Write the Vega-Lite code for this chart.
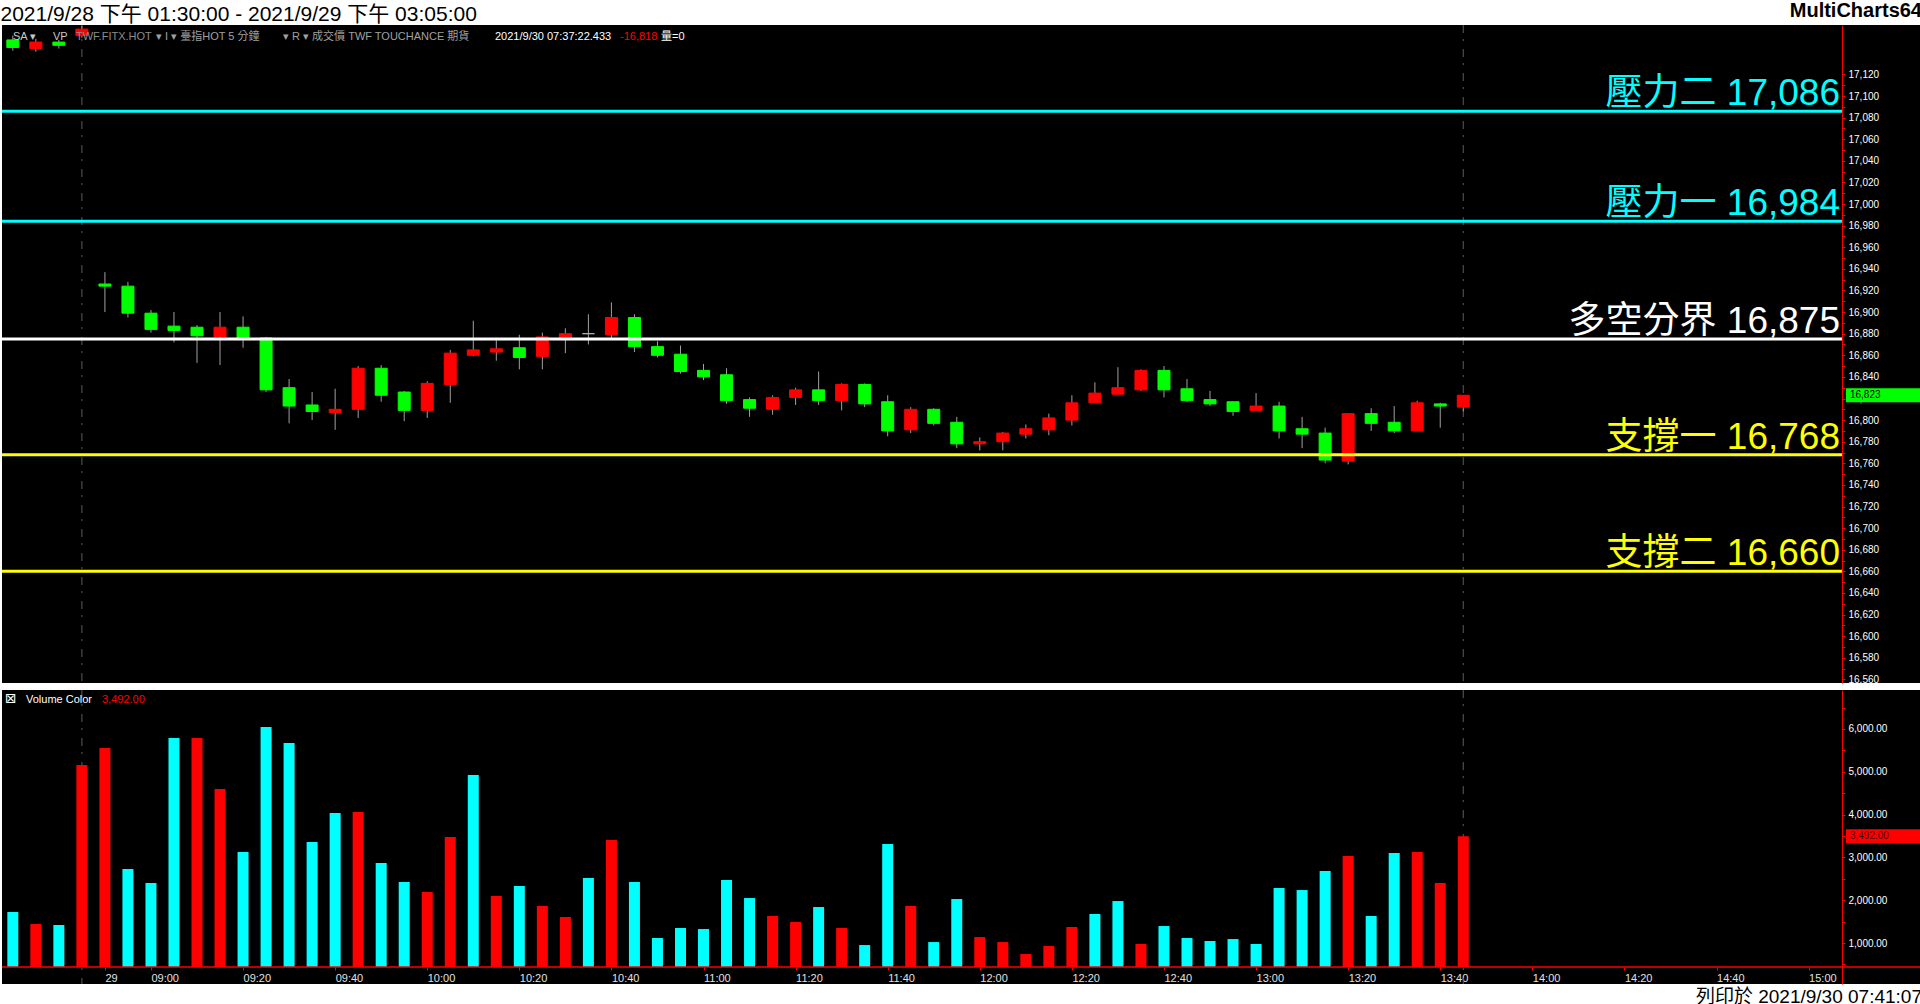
{
  "$schema": "https://vega.github.io/schema/vega-lite/v6.json",
  "background": "#FFFFFF",
  "padding": 0,
  "spacing": 4,
  "config": {
    "view": {"stroke": null, "fill": "#000000"},
    "font": "Liberation Sans, Noto Sans CJK TC",
    "concat": {"spacing": 4}
  },
  "title": {"text": "2021/9/28 下午 01:30:00 - 2021/9/29 下午 03:05:00", "anchor": "start", "fontSize": 21, "fontWeight": "normal", "color": "#000000", "offset": -24, "font": "Liberation Sans, Noto Sans CJK TC"},
  "datasets": {
    "sessions": [{"i": 3}, {"i": 63}],
    "levels": [
      {"name": "壓力二", "value": 17086, "label": "壓力二 17,086"},
      {"name": "壓力一", "value": 16984, "label": "壓力一 16,984"},
      {"name": "多空分界", "value": 16875, "label": "多空分界 16,875"},
      {"name": "支撐一", "value": 16768, "label": "支撐一 16,768"},
      {"name": "支撐二", "value": 16660, "label": "支撐二 16,660"}
    ],
    "bars": [
      {"i": 0, "o": 17152, "h": 17156, "l": 17142, "c": 17145, "d": "down", "v": 1724, "vd": "down"},
      {"i": 1, "o": 17144, "h": 17153, "l": 17141, "c": 17150, "d": "up", "v": 1444, "vd": "up"},
      {"i": 2, "o": 17150, "h": 17152, "l": 17144, "c": 17147, "d": "down", "v": 1421, "vd": "down"},
      {"i": 3, "o": 17156, "h": 17165, "l": 17154, "c": 17162, "d": "up", "v": 5159, "vd": "up"},
      {"i": 4, "o": 16926, "h": 16937, "l": 16900, "c": 16924, "d": "down", "v": 5556, "vd": "up"},
      {"i": 5, "o": 16924, "h": 16928, "l": 16895, "c": 16899, "d": "down", "v": 2729, "vd": "down"},
      {"i": 6, "o": 16899, "h": 16902, "l": 16881, "c": 16884, "d": "down", "v": 2402, "vd": "down"},
      {"i": 7, "o": 16887, "h": 16900, "l": 16872, "c": 16883, "d": "down", "v": 5790, "vd": "down"},
      {"i": 8, "o": 16886, "h": 16888, "l": 16853, "c": 16878, "d": "down", "v": 5790, "vd": "up"},
      {"i": 9, "o": 16877, "h": 16900, "l": 16851, "c": 16886, "d": "up", "v": 4598, "vd": "up"},
      {"i": 10, "o": 16886, "h": 16896, "l": 16867, "c": 16876, "d": "down", "v": 3126, "vd": "down"},
      {"i": 11, "o": 16876, "h": 16877, "l": 16826, "c": 16828, "d": "down", "v": 6047, "vd": "down"},
      {"i": 12, "o": 16830, "h": 16838, "l": 16797, "c": 16813, "d": "down", "v": 5673, "vd": "down"},
      {"i": 13, "o": 16814, "h": 16826, "l": 16800, "c": 16808, "d": "down", "v": 3360, "vd": "down"},
      {"i": 14, "o": 16807, "h": 16829, "l": 16791, "c": 16810, "d": "up", "v": 4037, "vd": "down"},
      {"i": 15, "o": 16810, "h": 16850, "l": 16802, "c": 16848, "d": "up", "v": 4061, "vd": "up"},
      {"i": 16, "o": 16848, "h": 16851, "l": 16817, "c": 16823, "d": "down", "v": 2869, "vd": "down"},
      {"i": 17, "o": 16826, "h": 16827, "l": 16799, "c": 16809, "d": "down", "v": 2425, "vd": "down"},
      {"i": 18, "o": 16809, "h": 16836, "l": 16802, "c": 16834, "d": "up", "v": 2192, "vd": "up"},
      {"i": 19, "o": 16833, "h": 16865, "l": 16816, "c": 16862, "d": "up", "v": 3477, "vd": "up"},
      {"i": 20, "o": 16860, "h": 16892, "l": 16859, "c": 16865, "d": "up", "v": 4925, "vd": "down"},
      {"i": 21, "o": 16863, "h": 16874, "l": 16855, "c": 16866, "d": "up", "v": 2098, "vd": "up"},
      {"i": 22, "o": 16867, "h": 16879, "l": 16847, "c": 16858, "d": "down", "v": 2332, "vd": "down"},
      {"i": 23, "o": 16859, "h": 16881, "l": 16847, "c": 16877, "d": "up", "v": 1865, "vd": "up"},
      {"i": 24, "o": 16876, "h": 16885, "l": 16862, "c": 16880, "d": "up", "v": 1608, "vd": "up"},
      {"i": 25, "o": 16880, "h": 16898, "l": 16870, "c": 16880, "d": "flat", "v": 2519, "vd": "down"},
      {"i": 26, "o": 16879, "h": 16909, "l": 16876, "c": 16895, "d": "up", "v": 3407, "vd": "up"},
      {"i": 27, "o": 16895, "h": 16898, "l": 16863, "c": 16868, "d": "down", "v": 2425, "vd": "down"},
      {"i": 28, "o": 16868, "h": 16873, "l": 16858, "c": 16860, "d": "down", "v": 1117, "vd": "down"},
      {"i": 29, "o": 16861, "h": 16869, "l": 16843, "c": 16845, "d": "down", "v": 1351, "vd": "down"},
      {"i": 30, "o": 16846, "h": 16852, "l": 16837, "c": 16840, "d": "down", "v": 1327, "vd": "down"},
      {"i": 31, "o": 16842, "h": 16848, "l": 16815, "c": 16818, "d": "down", "v": 2472, "vd": "down"},
      {"i": 32, "o": 16819, "h": 16821, "l": 16803, "c": 16811, "d": "down", "v": 2051, "vd": "down"},
      {"i": 33, "o": 16810, "h": 16823, "l": 16805, "c": 16821, "d": "up", "v": 1631, "vd": "up"},
      {"i": 34, "o": 16821, "h": 16830, "l": 16814, "c": 16828, "d": "up", "v": 1491, "vd": "up"},
      {"i": 35, "o": 16828, "h": 16845, "l": 16814, "c": 16818, "d": "down", "v": 1841, "vd": "down"},
      {"i": 36, "o": 16818, "h": 16834, "l": 16809, "c": 16833, "d": "up", "v": 1351, "vd": "up"},
      {"i": 37, "o": 16833, "h": 16834, "l": 16812, "c": 16815, "d": "down", "v": 953, "vd": "down"},
      {"i": 38, "o": 16817, "h": 16823, "l": 16785, "c": 16790, "d": "down", "v": 3313, "vd": "down"},
      {"i": 39, "o": 16791, "h": 16812, "l": 16788, "c": 16810, "d": "up", "v": 1865, "vd": "up"},
      {"i": 40, "o": 16810, "h": 16811, "l": 16795, "c": 16797, "d": "down", "v": 1023, "vd": "down"},
      {"i": 41, "o": 16798, "h": 16803, "l": 16774, "c": 16778, "d": "down", "v": 2028, "vd": "down"},
      {"i": 42, "o": 16778, "h": 16784, "l": 16772, "c": 16780, "d": "up", "v": 1140, "vd": "up"},
      {"i": 43, "o": 16780, "h": 16789, "l": 16772, "c": 16788, "d": "up", "v": 1023, "vd": "up"},
      {"i": 44, "o": 16787, "h": 16796, "l": 16783, "c": 16792, "d": "up", "v": 743, "vd": "up"},
      {"i": 45, "o": 16791, "h": 16806, "l": 16786, "c": 16802, "d": "up", "v": 930, "vd": "up"},
      {"i": 46, "o": 16800, "h": 16823, "l": 16795, "c": 16816, "d": "up", "v": 1374, "vd": "up"},
      {"i": 47, "o": 16816, "h": 16835, "l": 16816, "c": 16825, "d": "up", "v": 1678, "vd": "down"},
      {"i": 48, "o": 16824, "h": 16849, "l": 16824, "c": 16830, "d": "up", "v": 1981, "vd": "down"},
      {"i": 49, "o": 16828, "h": 16847, "l": 16827, "c": 16846, "d": "up", "v": 977, "vd": "up"},
      {"i": 50, "o": 16846, "h": 16850, "l": 16821, "c": 16828, "d": "down", "v": 1397, "vd": "down"},
      {"i": 51, "o": 16829, "h": 16838, "l": 16817, "c": 16818, "d": "down", "v": 1117, "vd": "down"},
      {"i": 52, "o": 16819, "h": 16827, "l": 16813, "c": 16815, "d": "down", "v": 1047, "vd": "down"},
      {"i": 53, "o": 16817, "h": 16817, "l": 16804, "c": 16808, "d": "down", "v": 1093, "vd": "down"},
      {"i": 54, "o": 16809, "h": 16825, "l": 16809, "c": 16813, "d": "up", "v": 977, "vd": "down"},
      {"i": 55, "o": 16813, "h": 16817, "l": 16783, "c": 16790, "d": "down", "v": 2285, "vd": "down"},
      {"i": 56, "o": 16792, "h": 16803, "l": 16774, "c": 16787, "d": "down", "v": 2238, "vd": "down"},
      {"i": 57, "o": 16788, "h": 16793, "l": 16760, "c": 16763, "d": "down", "v": 2682, "vd": "down"},
      {"i": 58, "o": 16762, "h": 16806, "l": 16759, "c": 16806, "d": "up", "v": 3033, "vd": "up"},
      {"i": 59, "o": 16806, "h": 16811, "l": 16790, "c": 16797, "d": "down", "v": 1631, "vd": "down"},
      {"i": 60, "o": 16798, "h": 16813, "l": 16788, "c": 16790, "d": "down", "v": 3103, "vd": "down"},
      {"i": 61, "o": 16790, "h": 16818, "l": 16790, "c": 16816, "d": "up", "v": 3126, "vd": "up"},
      {"i": 62, "o": 16815, "h": 16816, "l": 16793, "c": 16813, "d": "down", "v": 2402, "vd": "up"},
      {"i": 63, "o": 16812, "h": 16823, "l": 16808, "c": 16823, "d": "up", "v": 3492, "vd": "up"}
    ]
  },
  "vconcat": [
    {
      "width": 1920,
      "height": 658,
      "title": {"text": "MultiCharts64", "anchor": "end", "frame": "group", "fontSize": 20, "fontWeight": "bold", "color": "#000000", "offset": 4, "font": "Liberation Sans"},
      "layer": [
        {
          "data": {"name": "sessions"},
          "mark": {"type": "rule", "color": "#5A5A5A", "strokeWidth": 1, "strokeDash": [8, 6, 2, 8]},
          "encoding": {
            "x": {"field": "i", "type": "quantitative", "scale": {"domain": [-0.47, 79.45], "range": [0, 1840], "padding": 0, "nice": false, "zero": false}, "axis": null}
          }
        },
        {
          "data": {"name": "bars"},
          "mark": {"type": "rule", "color": "#A0A0A0", "strokeWidth": 1},
          "encoding": {
            "x": {"field": "i", "type": "quantitative", "scale": {"domain": [-0.47, 79.45], "range": [0, 1840], "padding": 0, "nice": false, "zero": false}, "axis": null},
            "y": {"field": "l", "type": "quantitative", "scale": {"domain": [16556.6, 17165.8], "padding": 0, "nice": false, "zero": false},
              "axis": {"orient": "right", "offset": -80, "values": [16560, 16570, 16580, 16590, 16600, 16610, 16620, 16630, 16640, 16650, 16660, 16670, 16680, 16690, 16700, 16710, 16720, 16730, 16740, 16750, 16760, 16770, 16780, 16790, 16800, 16810, 16820, 16830, 16840, 16850, 16860, 16870, 16880, 16890, 16900, 16910, 16920, 16930, 16940, 16950, 16960, 16970, 16980, 16990, 17000, 17010, 17020, 17030, 17040, 17050, 17060, 17070, 17080, 17090, 17100, 17110, 17120], "labelExpr": "datum.value % 20 == 0 ? format(datum.value, ',d') : ''", "domain": true, "domainColor": "#FF0000", "domainWidth": 1, "ticks": true, "tickColor": "#FF0000", "tickSize": 3, "labels": true, "labelColor": "#FFFFFF", "labelFontSize": 10, "labelPadding": 3, "grid": false, "title": null, "labelOverlap": false, "labelBound": false, "labelFlush": false}},
            "y2": {"field": "h"}
          }
        },
        {
          "data": {"name": "bars"},
          "mark": {"type": "bar", "width": 12, "strokeWidth": 1},
          "encoding": {
            "x": {"field": "i", "type": "quantitative", "scale": {"domain": [-0.47, 79.45], "range": [0, 1840], "padding": 0, "nice": false, "zero": false}, "axis": null},
            "y": {"field": "o", "type": "quantitative", "scale": {"domain": [16556.6, 17165.8], "padding": 0, "nice": false, "zero": false},
              "axis": {"orient": "right", "offset": -80, "values": [16560, 16570, 16580, 16590, 16600, 16610, 16620, 16630, 16640, 16650, 16660, 16670, 16680, 16690, 16700, 16710, 16720, 16730, 16740, 16750, 16760, 16770, 16780, 16790, 16800, 16810, 16820, 16830, 16840, 16850, 16860, 16870, 16880, 16890, 16900, 16910, 16920, 16930, 16940, 16950, 16960, 16970, 16980, 16990, 17000, 17010, 17020, 17030, 17040, 17050, 17060, 17070, 17080, 17090, 17100, 17110, 17120], "labelExpr": "datum.value % 20 == 0 ? format(datum.value, ',d') : ''", "domain": true, "domainColor": "#FF0000", "domainWidth": 1, "ticks": true, "tickColor": "#FF0000", "tickSize": 3, "labels": true, "labelColor": "#FFFFFF", "labelFontSize": 10, "labelPadding": 3, "grid": false, "title": null, "labelOverlap": false, "labelBound": false, "labelFlush": false}},
            "y2": {"field": "c"},
            "color": {"condition": [{"test": "datum.d === 'up'", "value": "#FF0000"}, {"test": "datum.d === 'flat'", "value": "#B0B0B0"}], "value": "#00FF00"},
            "stroke": {"condition": [{"test": "datum.d === 'up'", "value": "#FF0000"}, {"test": "datum.d === 'flat'", "value": "#B0B0B0"}], "value": "#00FF00"}
          }
        },
        {
          "data": {"name": "levels"},
          "mark": {"type": "rule", "strokeWidth": 3},
          "encoding": {
            "x": {"datum": -0.47, "type": "quantitative", "scale": {"domain": [-0.47, 79.45], "range": [0, 1840], "padding": 0, "nice": false, "zero": false}, "axis": null},
            "x2": {"datum": 79.45},
            "y": {"field": "value", "type": "quantitative", "scale": {"domain": [16556.6, 17165.8], "padding": 0, "nice": false, "zero": false},
              "axis": {"orient": "right", "offset": -80, "values": [16560, 16570, 16580, 16590, 16600, 16610, 16620, 16630, 16640, 16650, 16660, 16670, 16680, 16690, 16700, 16710, 16720, 16730, 16740, 16750, 16760, 16770, 16780, 16790, 16800, 16810, 16820, 16830, 16840, 16850, 16860, 16870, 16880, 16890, 16900, 16910, 16920, 16930, 16940, 16950, 16960, 16970, 16980, 16990, 17000, 17010, 17020, 17030, 17040, 17050, 17060, 17070, 17080, 17090, 17100, 17110, 17120], "labelExpr": "datum.value % 20 == 0 ? format(datum.value, ',d') : ''", "domain": true, "domainColor": "#FF0000", "domainWidth": 1, "ticks": true, "tickColor": "#FF0000", "tickSize": 3, "labels": true, "labelColor": "#FFFFFF", "labelFontSize": 10, "labelPadding": 3, "grid": false, "title": null, "labelOverlap": false, "labelBound": false, "labelFlush": false}},
            "color": {"condition": [{"test": "indexof(datum.name, '壓力') >= 0", "value": "#00FFFF"}, {"test": "indexof(datum.name, '支撐') >= 0", "value": "#FFFF00"}], "value": "#FFFFFF"}
          }
        },
        {
          "data": {"name": "levels"},
          "mark": {"type": "text", "align": "right", "baseline": "alphabetic", "dx": -2, "dy": -6, "fontSize": 37, "font": "Liberation Sans, Noto Sans CJK TC"},
          "encoding": {
            "x": {"datum": 79.45, "type": "quantitative", "scale": {"domain": [-0.47, 79.45], "range": [0, 1840], "padding": 0, "nice": false, "zero": false}, "axis": null},
            "y": {"field": "value", "type": "quantitative", "scale": {"domain": [16556.6, 17165.8], "padding": 0, "nice": false, "zero": false},
              "axis": {"orient": "right", "offset": -80, "values": [16560, 16570, 16580, 16590, 16600, 16610, 16620, 16630, 16640, 16650, 16660, 16670, 16680, 16690, 16700, 16710, 16720, 16730, 16740, 16750, 16760, 16770, 16780, 16790, 16800, 16810, 16820, 16830, 16840, 16850, 16860, 16870, 16880, 16890, 16900, 16910, 16920, 16930, 16940, 16950, 16960, 16970, 16980, 16990, 17000, 17010, 17020, 17030, 17040, 17050, 17060, 17070, 17080, 17090, 17100, 17110, 17120], "labelExpr": "datum.value % 20 == 0 ? format(datum.value, ',d') : ''", "domain": true, "domainColor": "#FF0000", "domainWidth": 1, "ticks": true, "tickColor": "#FF0000", "tickSize": 3, "labels": true, "labelColor": "#FFFFFF", "labelFontSize": 10, "labelPadding": 3, "grid": false, "title": null, "labelOverlap": false, "labelBound": false, "labelFlush": false}},
            "text": {"field": "label"},
            "color": {"condition": [{"test": "indexof(datum.name, '壓力') >= 0", "value": "#00FFFF"}, {"test": "indexof(datum.name, '支撐') >= 0", "value": "#FFFF00"}], "value": "#FFFFFF"}
          }
        },
        {
          "data": {"values": [{"t": "SA ▾"}]},
          "mark": {"type": "text", "align": "left", "baseline": "top", "dx": 11, "dy": 6, "fontSize": 11, "color": "#C8C8C8"},
          "encoding": {
            "x": {"datum": -0.47, "type": "quantitative", "scale": {"domain": [-0.47, 79.45], "range": [0, 1840], "padding": 0, "nice": false, "zero": false}, "axis": null},
            "y": {"datum": 17165.8, "type": "quantitative", "scale": {"domain": [16556.6, 17165.8], "padding": 0, "nice": false, "zero": false},
              "axis": {"orient": "right", "offset": -80, "values": [16560, 16570, 16580, 16590, 16600, 16610, 16620, 16630, 16640, 16650, 16660, 16670, 16680, 16690, 16700, 16710, 16720, 16730, 16740, 16750, 16760, 16770, 16780, 16790, 16800, 16810, 16820, 16830, 16840, 16850, 16860, 16870, 16880, 16890, 16900, 16910, 16920, 16930, 16940, 16950, 16960, 16970, 16980, 16990, 17000, 17010, 17020, 17030, 17040, 17050, 17060, 17070, 17080, 17090, 17100, 17110, 17120], "labelExpr": "datum.value % 20 == 0 ? format(datum.value, ',d') : ''", "domain": true, "domainColor": "#FF0000", "domainWidth": 1, "ticks": true, "tickColor": "#FF0000", "tickSize": 3, "labels": true, "labelColor": "#FFFFFF", "labelFontSize": 10, "labelPadding": 3, "grid": false, "title": null, "labelOverlap": false, "labelBound": false, "labelFlush": false}},
            "text": {"field": "t"}
          }
        },
        {
          "data": {"values": [{"t": "VP"}]},
          "mark": {"type": "text", "align": "left", "baseline": "top", "dx": 51, "dy": 6, "fontSize": 11, "color": "#C8C8C8"},
          "encoding": {
            "x": {"datum": -0.47, "type": "quantitative", "scale": {"domain": [-0.47, 79.45], "range": [0, 1840], "padding": 0, "nice": false, "zero": false}, "axis": null},
            "y": {"datum": 17165.8, "type": "quantitative", "scale": {"domain": [16556.6, 17165.8], "padding": 0, "nice": false, "zero": false},
              "axis": {"orient": "right", "offset": -80, "values": [16560, 16570, 16580, 16590, 16600, 16610, 16620, 16630, 16640, 16650, 16660, 16670, 16680, 16690, 16700, 16710, 16720, 16730, 16740, 16750, 16760, 16770, 16780, 16790, 16800, 16810, 16820, 16830, 16840, 16850, 16860, 16870, 16880, 16890, 16900, 16910, 16920, 16930, 16940, 16950, 16960, 16970, 16980, 16990, 17000, 17010, 17020, 17030, 17040, 17050, 17060, 17070, 17080, 17090, 17100, 17110, 17120], "labelExpr": "datum.value % 20 == 0 ? format(datum.value, ',d') : ''", "domain": true, "domainColor": "#FF0000", "domainWidth": 1, "ticks": true, "tickColor": "#FF0000", "tickSize": 3, "labels": true, "labelColor": "#FFFFFF", "labelFontSize": 10, "labelPadding": 3, "grid": false, "title": null, "labelOverlap": false, "labelBound": false, "labelFlush": false}},
            "text": {"field": "t"}
          }
        },
        {
          "data": {"values": [{"t": "TWF.FITX.HOT"}]},
          "mark": {"type": "text", "align": "left", "baseline": "top", "dx": 74, "dy": 6, "fontSize": 11, "color": "#8C8C8C"},
          "encoding": {
            "x": {"datum": -0.47, "type": "quantitative", "scale": {"domain": [-0.47, 79.45], "range": [0, 1840], "padding": 0, "nice": false, "zero": false}, "axis": null},
            "y": {"datum": 17165.8, "type": "quantitative", "scale": {"domain": [16556.6, 17165.8], "padding": 0, "nice": false, "zero": false},
              "axis": {"orient": "right", "offset": -80, "values": [16560, 16570, 16580, 16590, 16600, 16610, 16620, 16630, 16640, 16650, 16660, 16670, 16680, 16690, 16700, 16710, 16720, 16730, 16740, 16750, 16760, 16770, 16780, 16790, 16800, 16810, 16820, 16830, 16840, 16850, 16860, 16870, 16880, 16890, 16900, 16910, 16920, 16930, 16940, 16950, 16960, 16970, 16980, 16990, 17000, 17010, 17020, 17030, 17040, 17050, 17060, 17070, 17080, 17090, 17100, 17110, 17120], "labelExpr": "datum.value % 20 == 0 ? format(datum.value, ',d') : ''", "domain": true, "domainColor": "#FF0000", "domainWidth": 1, "ticks": true, "tickColor": "#FF0000", "tickSize": 3, "labels": true, "labelColor": "#FFFFFF", "labelFontSize": 10, "labelPadding": 3, "grid": false, "title": null, "labelOverlap": false, "labelBound": false, "labelFlush": false}},
            "text": {"field": "t"}
          }
        },
        {
          "data": {"values": [{"t": "▾    I ▾   臺指HOT  5 分鐘"}]},
          "mark": {"type": "text", "align": "left", "baseline": "top", "dx": 154, "dy": 6, "fontSize": 11, "color": "#A0A0A0"},
          "encoding": {
            "x": {"datum": -0.47, "type": "quantitative", "scale": {"domain": [-0.47, 79.45], "range": [0, 1840], "padding": 0, "nice": false, "zero": false}, "axis": null},
            "y": {"datum": 17165.8, "type": "quantitative", "scale": {"domain": [16556.6, 17165.8], "padding": 0, "nice": false, "zero": false},
              "axis": {"orient": "right", "offset": -80, "values": [16560, 16570, 16580, 16590, 16600, 16610, 16620, 16630, 16640, 16650, 16660, 16670, 16680, 16690, 16700, 16710, 16720, 16730, 16740, 16750, 16760, 16770, 16780, 16790, 16800, 16810, 16820, 16830, 16840, 16850, 16860, 16870, 16880, 16890, 16900, 16910, 16920, 16930, 16940, 16950, 16960, 16970, 16980, 16990, 17000, 17010, 17020, 17030, 17040, 17050, 17060, 17070, 17080, 17090, 17100, 17110, 17120], "labelExpr": "datum.value % 20 == 0 ? format(datum.value, ',d') : ''", "domain": true, "domainColor": "#FF0000", "domainWidth": 1, "ticks": true, "tickColor": "#FF0000", "tickSize": 3, "labels": true, "labelColor": "#FFFFFF", "labelFontSize": 10, "labelPadding": 3, "grid": false, "title": null, "labelOverlap": false, "labelBound": false, "labelFlush": false}},
            "text": {"field": "t"}
          }
        },
        {
          "data": {"values": [{"t": "▾    R ▾   成交價  TWF  TOUCHANCE  期貨"}]},
          "mark": {"type": "text", "align": "left", "baseline": "top", "dx": 281, "dy": 6, "fontSize": 11, "color": "#A0A0A0"},
          "encoding": {
            "x": {"datum": -0.47, "type": "quantitative", "scale": {"domain": [-0.47, 79.45], "range": [0, 1840], "padding": 0, "nice": false, "zero": false}, "axis": null},
            "y": {"datum": 17165.8, "type": "quantitative", "scale": {"domain": [16556.6, 17165.8], "padding": 0, "nice": false, "zero": false},
              "axis": {"orient": "right", "offset": -80, "values": [16560, 16570, 16580, 16590, 16600, 16610, 16620, 16630, 16640, 16650, 16660, 16670, 16680, 16690, 16700, 16710, 16720, 16730, 16740, 16750, 16760, 16770, 16780, 16790, 16800, 16810, 16820, 16830, 16840, 16850, 16860, 16870, 16880, 16890, 16900, 16910, 16920, 16930, 16940, 16950, 16960, 16970, 16980, 16990, 17000, 17010, 17020, 17030, 17040, 17050, 17060, 17070, 17080, 17090, 17100, 17110, 17120], "labelExpr": "datum.value % 20 == 0 ? format(datum.value, ',d') : ''", "domain": true, "domainColor": "#FF0000", "domainWidth": 1, "ticks": true, "tickColor": "#FF0000", "tickSize": 3, "labels": true, "labelColor": "#FFFFFF", "labelFontSize": 10, "labelPadding": 3, "grid": false, "title": null, "labelOverlap": false, "labelBound": false, "labelFlush": false}},
            "text": {"field": "t"}
          }
        },
        {
          "data": {"values": [{"t": "2021/9/30  07:37:22.433"}]},
          "mark": {"type": "text", "align": "left", "baseline": "top", "dx": 493, "dy": 6, "fontSize": 11, "color": "#FFFFFF"},
          "encoding": {
            "x": {"datum": -0.47, "type": "quantitative", "scale": {"domain": [-0.47, 79.45], "range": [0, 1840], "padding": 0, "nice": false, "zero": false}, "axis": null},
            "y": {"datum": 17165.8, "type": "quantitative", "scale": {"domain": [16556.6, 17165.8], "padding": 0, "nice": false, "zero": false},
              "axis": {"orient": "right", "offset": -80, "values": [16560, 16570, 16580, 16590, 16600, 16610, 16620, 16630, 16640, 16650, 16660, 16670, 16680, 16690, 16700, 16710, 16720, 16730, 16740, 16750, 16760, 16770, 16780, 16790, 16800, 16810, 16820, 16830, 16840, 16850, 16860, 16870, 16880, 16890, 16900, 16910, 16920, 16930, 16940, 16950, 16960, 16970, 16980, 16990, 17000, 17010, 17020, 17030, 17040, 17050, 17060, 17070, 17080, 17090, 17100, 17110, 17120], "labelExpr": "datum.value % 20 == 0 ? format(datum.value, ',d') : ''", "domain": true, "domainColor": "#FF0000", "domainWidth": 1, "ticks": true, "tickColor": "#FF0000", "tickSize": 3, "labels": true, "labelColor": "#FFFFFF", "labelFontSize": 10, "labelPadding": 3, "grid": false, "title": null, "labelOverlap": false, "labelBound": false, "labelFlush": false}},
            "text": {"field": "t"}
          }
        },
        {
          "data": {"values": [{"t": "-16,818"}]},
          "mark": {"type": "text", "align": "left", "baseline": "top", "dx": 618, "dy": 6, "fontSize": 11, "color": "#FF0000"},
          "encoding": {
            "x": {"datum": -0.47, "type": "quantitative", "scale": {"domain": [-0.47, 79.45], "range": [0, 1840], "padding": 0, "nice": false, "zero": false}, "axis": null},
            "y": {"datum": 17165.8, "type": "quantitative", "scale": {"domain": [16556.6, 17165.8], "padding": 0, "nice": false, "zero": false},
              "axis": {"orient": "right", "offset": -80, "values": [16560, 16570, 16580, 16590, 16600, 16610, 16620, 16630, 16640, 16650, 16660, 16670, 16680, 16690, 16700, 16710, 16720, 16730, 16740, 16750, 16760, 16770, 16780, 16790, 16800, 16810, 16820, 16830, 16840, 16850, 16860, 16870, 16880, 16890, 16900, 16910, 16920, 16930, 16940, 16950, 16960, 16970, 16980, 16990, 17000, 17010, 17020, 17030, 17040, 17050, 17060, 17070, 17080, 17090, 17100, 17110, 17120], "labelExpr": "datum.value % 20 == 0 ? format(datum.value, ',d') : ''", "domain": true, "domainColor": "#FF0000", "domainWidth": 1, "ticks": true, "tickColor": "#FF0000", "tickSize": 3, "labels": true, "labelColor": "#FFFFFF", "labelFontSize": 10, "labelPadding": 3, "grid": false, "title": null, "labelOverlap": false, "labelBound": false, "labelFlush": false}},
            "text": {"field": "t"}
          }
        },
        {
          "data": {"values": [{"t": "量=0"}]},
          "mark": {"type": "text", "align": "left", "baseline": "top", "dx": 659, "dy": 6, "fontSize": 11, "color": "#FFFFFF"},
          "encoding": {
            "x": {"datum": -0.47, "type": "quantitative", "scale": {"domain": [-0.47, 79.45], "range": [0, 1840], "padding": 0, "nice": false, "zero": false}, "axis": null},
            "y": {"datum": 17165.8, "type": "quantitative", "scale": {"domain": [16556.6, 17165.8], "padding": 0, "nice": false, "zero": false},
              "axis": {"orient": "right", "offset": -80, "values": [16560, 16570, 16580, 16590, 16600, 16610, 16620, 16630, 16640, 16650, 16660, 16670, 16680, 16690, 16700, 16710, 16720, 16730, 16740, 16750, 16760, 16770, 16780, 16790, 16800, 16810, 16820, 16830, 16840, 16850, 16860, 16870, 16880, 16890, 16900, 16910, 16920, 16930, 16940, 16950, 16960, 16970, 16980, 16990, 17000, 17010, 17020, 17030, 17040, 17050, 17060, 17070, 17080, 17090, 17100, 17110, 17120], "labelExpr": "datum.value % 20 == 0 ? format(datum.value, ',d') : ''", "domain": true, "domainColor": "#FF0000", "domainWidth": 1, "ticks": true, "tickColor": "#FF0000", "tickSize": 3, "labels": true, "labelColor": "#FFFFFF", "labelFontSize": 10, "labelPadding": 3, "grid": false, "title": null, "labelOverlap": false, "labelBound": false, "labelFlush": false}},
            "text": {"field": "t"}
          }
        },
        {
          "data": {"values": [{"last": 16823, "t": "16,823"}]},
          "mark": {"type": "bar", "height": 14, "color": "#00FF00"},
          "encoding": {
            "x": {"datum": 79.62, "type": "quantitative", "scale": {"domain": [-0.47, 79.45], "range": [0, 1840], "padding": 0, "nice": false, "zero": false}, "axis": null},
            "x2": {"datum": 82.9},
            "y": {"field": "last", "type": "quantitative", "scale": {"domain": [16556.6, 17165.8], "padding": 0, "nice": false, "zero": false},
              "axis": {"orient": "right", "offset": -80, "values": [16560, 16570, 16580, 16590, 16600, 16610, 16620, 16630, 16640, 16650, 16660, 16670, 16680, 16690, 16700, 16710, 16720, 16730, 16740, 16750, 16760, 16770, 16780, 16790, 16800, 16810, 16820, 16830, 16840, 16850, 16860, 16870, 16880, 16890, 16900, 16910, 16920, 16930, 16940, 16950, 16960, 16970, 16980, 16990, 17000, 17010, 17020, 17030, 17040, 17050, 17060, 17070, 17080, 17090, 17100, 17110, 17120], "labelExpr": "datum.value % 20 == 0 ? format(datum.value, ',d') : ''", "domain": true, "domainColor": "#FF0000", "domainWidth": 1, "ticks": true, "tickColor": "#FF0000", "tickSize": 3, "labels": true, "labelColor": "#FFFFFF", "labelFontSize": 10, "labelPadding": 3, "grid": false, "title": null, "labelOverlap": false, "labelBound": false, "labelFlush": false}}
          }
        },
        {
          "data": {"values": [{"last": 16823, "t": "16,823"}]},
          "mark": {"type": "text", "align": "left", "baseline": "middle", "dx": 4, "fontSize": 10, "color": "#000000"},
          "encoding": {
            "x": {"datum": 79.62, "type": "quantitative", "scale": {"domain": [-0.47, 79.45], "range": [0, 1840], "padding": 0, "nice": false, "zero": false}, "axis": null},
            "y": {"field": "last", "type": "quantitative", "scale": {"domain": [16556.6, 17165.8], "padding": 0, "nice": false, "zero": false},
              "axis": {"orient": "right", "offset": -80, "values": [16560, 16570, 16580, 16590, 16600, 16610, 16620, 16630, 16640, 16650, 16660, 16670, 16680, 16690, 16700, 16710, 16720, 16730, 16740, 16750, 16760, 16770, 16780, 16790, 16800, 16810, 16820, 16830, 16840, 16850, 16860, 16870, 16880, 16890, 16900, 16910, 16920, 16930, 16940, 16950, 16960, 16970, 16980, 16990, 17000, 17010, 17020, 17030, 17040, 17050, 17060, 17070, 17080, 17090, 17100, 17110, 17120], "labelExpr": "datum.value % 20 == 0 ? format(datum.value, ',d') : ''", "domain": true, "domainColor": "#FF0000", "domainWidth": 1, "ticks": true, "tickColor": "#FF0000", "tickSize": 3, "labels": true, "labelColor": "#FFFFFF", "labelFontSize": 10, "labelPadding": 3, "grid": false, "title": null, "labelOverlap": false, "labelBound": false, "labelFlush": false}},
            "text": {"field": "t"}
          }
        }
      ]
    },
    {
      "width": 1920,
      "height": 294,
      "title": {"text": "列印於 2021/9/30 07:41:07", "orient": "bottom", "anchor": "end", "frame": "group", "fontSize": 19, "fontWeight": "normal", "color": "#000000", "offset": 3, "font": "Liberation Sans, Noto Sans CJK TC"},
      "layer": [
        {
          "data": {"name": "sessions"},
          "mark": {"type": "rule", "color": "#5A5A5A", "strokeWidth": 1, "strokeDash": [8, 6, 2, 8]},
          "encoding": {
            "x": {"field": "i", "type": "quantitative", "scale": {"domain": [-0.47, 79.45], "range": [0, 1840], "padding": 0, "nice": false, "zero": false},
              "axis": {"orient": "bottom", "offset": -17, "values": [4, 6, 10, 14, 18, 22, 26, 30, 34, 38, 42, 46, 50, 54, 58, 62, 66, 70, 74, 78], "labelExpr": "datum.value == 4 ? '29' : timeFormat(datetime(2021, 8, 29, 9, (datum.value - 6) * 5), '%H:%M')", "domain": false, "ticks": true, "tickColor": "#FF0000", "tickSize": 3, "labels": true, "labelColor": "#E0E0E0", "labelFontSize": 11, "labelAlign": "left", "labelPadding": 2, "labelFlush": false, "labelOverlap": false, "labelBound": false, "grid": false, "title": null}}
          }
        },
        {
          "data": {"name": "bars"},
          "mark": {"type": "bar", "width": 11},
          "encoding": {
            "x": {"field": "i", "type": "quantitative", "scale": {"domain": [-0.47, 79.45], "range": [0, 1840], "padding": 0, "nice": false, "zero": false}},
            "y": {"field": "v", "type": "quantitative", "scale": {"domain": [43, 6911], "padding": 0, "nice": false, "zero": false},
              "axis": {"orient": "right", "offset": -80, "values": [500, 1000, 1500, 2000, 2500, 3000, 3500, 4000, 4500, 5000, 5500, 6000, 6500], "labelExpr": "datum.value % 1000 == 0 ? format(datum.value, ',.2f') : ''", "domain": true, "domainColor": "#FF0000", "domainWidth": 1, "ticks": true, "tickColor": "#FF0000", "tickSize": 3, "labels": true, "labelColor": "#FFFFFF", "labelFontSize": 10, "labelPadding": 3, "grid": false, "title": null, "labelOverlap": false, "labelBound": false, "labelFlush": false}},
            "y2": {"datum": 440},
            "color": {"condition": {"test": "datum.vd === 'up'", "value": "#FF0000"}, "value": "#00FFFF"}
          }
        },
        {
          "data": {"values": [{"b": 440}]},
          "mark": {"type": "rule", "color": "#FF0000", "strokeWidth": 1.5},
          "encoding": {
            "y": {"field": "b", "type": "quantitative", "scale": {"domain": [43, 6911], "padding": 0, "nice": false, "zero": false},
              "axis": {"orient": "right", "offset": -80, "values": [500, 1000, 1500, 2000, 2500, 3000, 3500, 4000, 4500, 5000, 5500, 6000, 6500], "labelExpr": "datum.value % 1000 == 0 ? format(datum.value, ',.2f') : ''", "domain": true, "domainColor": "#FF0000", "domainWidth": 1, "ticks": true, "tickColor": "#FF0000", "tickSize": 3, "labels": true, "labelColor": "#FFFFFF", "labelFontSize": 10, "labelPadding": 3, "grid": false, "title": null, "labelOverlap": false, "labelBound": false, "labelFlush": false}}
          }
        },
        {
          "data": {"values": [{"t": "⊠"}]},
          "mark": {"type": "text", "align": "left", "baseline": "top", "dx": 3, "dy": 2, "fontSize": 14, "color": "#FFFFFF", "font": "DejaVu Sans"},
          "encoding": {
            "x": {"datum": -0.47, "type": "quantitative", "scale": {"domain": [-0.47, 79.45], "range": [0, 1840], "padding": 0, "nice": false, "zero": false}},
            "y": {"datum": 6911, "type": "quantitative", "scale": {"domain": [43, 6911], "padding": 0, "nice": false, "zero": false},
              "axis": {"orient": "right", "offset": -80, "values": [500, 1000, 1500, 2000, 2500, 3000, 3500, 4000, 4500, 5000, 5500, 6000, 6500], "labelExpr": "datum.value % 1000 == 0 ? format(datum.value, ',.2f') : ''", "domain": true, "domainColor": "#FF0000", "domainWidth": 1, "ticks": true, "tickColor": "#FF0000", "tickSize": 3, "labels": true, "labelColor": "#FFFFFF", "labelFontSize": 10, "labelPadding": 3, "grid": false, "title": null, "labelOverlap": false, "labelBound": false, "labelFlush": false}},
            "text": {"field": "t"}
          }
        },
        {
          "data": {"values": [{"t": "Volume Color"}]},
          "mark": {"type": "text", "align": "left", "baseline": "top", "dx": 24, "dy": 4, "fontSize": 11, "color": "#FFFFFF"},
          "encoding": {
            "x": {"datum": -0.47, "type": "quantitative", "scale": {"domain": [-0.47, 79.45], "range": [0, 1840], "padding": 0, "nice": false, "zero": false}},
            "y": {"datum": 6911, "type": "quantitative", "scale": {"domain": [43, 6911], "padding": 0, "nice": false, "zero": false},
              "axis": {"orient": "right", "offset": -80, "values": [500, 1000, 1500, 2000, 2500, 3000, 3500, 4000, 4500, 5000, 5500, 6000, 6500], "labelExpr": "datum.value % 1000 == 0 ? format(datum.value, ',.2f') : ''", "domain": true, "domainColor": "#FF0000", "domainWidth": 1, "ticks": true, "tickColor": "#FF0000", "tickSize": 3, "labels": true, "labelColor": "#FFFFFF", "labelFontSize": 10, "labelPadding": 3, "grid": false, "title": null, "labelOverlap": false, "labelBound": false, "labelFlush": false}},
            "text": {"field": "t"}
          }
        },
        {
          "data": {"values": [{"t": "3,492.00"}]},
          "mark": {"type": "text", "align": "left", "baseline": "top", "dx": 100, "dy": 4, "fontSize": 11, "color": "#FF0000"},
          "encoding": {
            "x": {"datum": -0.47, "type": "quantitative", "scale": {"domain": [-0.47, 79.45], "range": [0, 1840], "padding": 0, "nice": false, "zero": false}},
            "y": {"datum": 6911, "type": "quantitative", "scale": {"domain": [43, 6911], "padding": 0, "nice": false, "zero": false},
              "axis": {"orient": "right", "offset": -80, "values": [500, 1000, 1500, 2000, 2500, 3000, 3500, 4000, 4500, 5000, 5500, 6000, 6500], "labelExpr": "datum.value % 1000 == 0 ? format(datum.value, ',.2f') : ''", "domain": true, "domainColor": "#FF0000", "domainWidth": 1, "ticks": true, "tickColor": "#FF0000", "tickSize": 3, "labels": true, "labelColor": "#FFFFFF", "labelFontSize": 10, "labelPadding": 3, "grid": false, "title": null, "labelOverlap": false, "labelBound": false, "labelFlush": false}},
            "text": {"field": "t"}
          }
        },
        {
          "data": {"values": [{"last": 3492, "t": "3,492.00"}]},
          "mark": {"type": "bar", "height": 14, "color": "#FF0000"},
          "encoding": {
            "x": {"datum": 79.62, "type": "quantitative", "scale": {"domain": [-0.47, 79.45], "range": [0, 1840], "padding": 0, "nice": false, "zero": false}},
            "x2": {"datum": 82.9},
            "y": {"field": "last", "type": "quantitative", "scale": {"domain": [43, 6911], "padding": 0, "nice": false, "zero": false},
              "axis": {"orient": "right", "offset": -80, "values": [500, 1000, 1500, 2000, 2500, 3000, 3500, 4000, 4500, 5000, 5500, 6000, 6500], "labelExpr": "datum.value % 1000 == 0 ? format(datum.value, ',.2f') : ''", "domain": true, "domainColor": "#FF0000", "domainWidth": 1, "ticks": true, "tickColor": "#FF0000", "tickSize": 3, "labels": true, "labelColor": "#FFFFFF", "labelFontSize": 10, "labelPadding": 3, "grid": false, "title": null, "labelOverlap": false, "labelBound": false, "labelFlush": false}}
          }
        },
        {
          "data": {"values": [{"last": 3492, "t": "3,492.00"}]},
          "mark": {"type": "text", "align": "left", "baseline": "middle", "dx": 4, "fontSize": 10, "color": "#500000"},
          "encoding": {
            "x": {"datum": 79.62, "type": "quantitative", "scale": {"domain": [-0.47, 79.45], "range": [0, 1840], "padding": 0, "nice": false, "zero": false}},
            "y": {"field": "last", "type": "quantitative", "scale": {"domain": [43, 6911], "padding": 0, "nice": false, "zero": false},
              "axis": {"orient": "right", "offset": -80, "values": [500, 1000, 1500, 2000, 2500, 3000, 3500, 4000, 4500, 5000, 5500, 6000, 6500], "labelExpr": "datum.value % 1000 == 0 ? format(datum.value, ',.2f') : ''", "domain": true, "domainColor": "#FF0000", "domainWidth": 1, "ticks": true, "tickColor": "#FF0000", "tickSize": 3, "labels": true, "labelColor": "#FFFFFF", "labelFontSize": 10, "labelPadding": 3, "grid": false, "title": null, "labelOverlap": false, "labelBound": false, "labelFlush": false}},
            "text": {"field": "t"}
          }
        }
      ]
    }
  ]
}
